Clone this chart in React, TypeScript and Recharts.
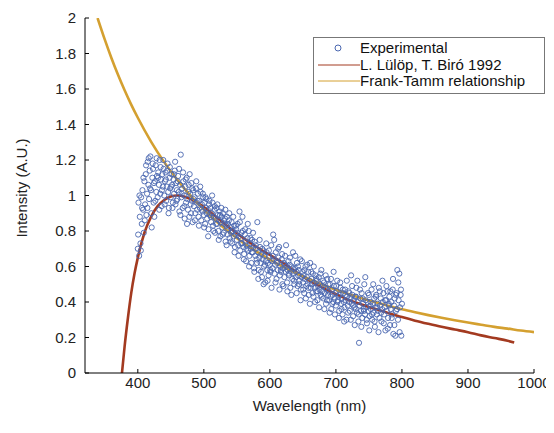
import React from "react";
import { ComposedChart, XAxis, YAxis, Line, Scatter, Label } from "recharts";

const xTicks = [400, 500, 600, 700, 800, 900, 1000];
const yTicks = [0, 0.2, 0.4, 0.6, 0.8, 1, 1.2, 1.4, 1.6, 1.8, 2];

const experimental: [number, number][] = [
  [400, 0.70], [401, 0.96], [402, 0.66], [403, 0.88], [404, 0.73], [405, 0.99], [406, 0.84], [407, 1.03], [408, 0.92], [409, 0.79],
  [410, 1.08], [411, 0.95], [412, 1.12], [413, 0.89], [414, 1.01], [415, 1.19], [416, 1.06], [417, 0.98], [418, 1.14], [419, 1.22],
  [420, 1.03], [421, 0.82], [422, 1.10], [423, 1.15], [424, 0.96], [425, 0.88], [426, 1.08], [427, 1.17], [428, 1.02], [429, 1.11],
  [430, 0.99], [431, 1.13], [432, 1.06], [433, 1.20], [434, 1.01], [435, 1.09], [436, 0.94], [437, 1.12], [438, 1.05], [439, 1.15],
  [440, 1.00], [441, 1.08], [442, 1.13], [443, 0.97], [444, 1.05], [445, 1.18], [446, 1.02], [447, 0.93], [448, 1.10], [449, 1.04],
  [450, 0.99], [451, 1.12], [452, 1.06], [453, 0.96], [454, 1.09], [455, 1.01], [456, 1.14], [457, 0.95], [458, 1.07], [459, 1.03],
  [460, 0.98], [461, 1.11], [462, 1.02], [463, 0.91], [464, 1.06], [465, 1.23], [466, 0.99], [467, 1.04], [468, 0.93], [469, 1.08],
  [470, 1.00], [471, 0.87], [472, 1.05], [473, 0.96], [474, 1.10], [475, 0.98], [476, 0.92], [477, 1.06], [478, 0.88], [479, 1.01],
  [480, 0.95], [481, 1.07], [482, 0.97], [483, 0.85], [484, 1.03], [485, 0.94], [486, 0.99], [487, 0.90], [488, 1.04], [489, 0.96],
  [490, 0.92], [491, 1.01], [492, 0.88], [493, 0.97], [494, 0.93], [495, 1.02], [496, 0.86], [497, 0.95], [498, 0.91], [499, 0.99],
  [500, 0.89], [501, 0.96], [502, 0.84], [503, 0.93], [504, 0.98], [505, 0.87], [506, 0.92], [507, 0.81], [508, 0.95], [509, 0.89],
  [510, 0.93], [511, 0.85], [512, 0.90], [513, 0.96], [514, 0.83], [515, 0.88], [516, 0.92], [517, 0.79], [518, 0.87], [519, 0.93],
  [520, 0.84], [521, 0.89], [522, 0.80], [523, 0.86], [524, 0.91], [525, 0.77], [526, 0.85], [527, 0.88], [528, 0.82], [529, 0.90],
  [530, 0.79], [531, 0.84], [532, 0.87], [533, 0.74], [534, 0.83], [535, 0.88], [536, 0.78], [537, 0.81], [538, 0.86], [539, 0.76],
  [540, 0.82], [541, 0.79], [542, 0.85], [543, 0.73], [544, 0.80], [545, 0.77], [546, 0.83], [547, 0.71], [548, 0.78], [549, 0.81],
  [550, 0.75], [551, 0.84], [552, 0.72], [553, 0.77], [554, 0.91], [555, 0.69], [556, 0.76], [557, 0.79], [558, 0.73], [559, 0.80],
  [560, 0.71], [561, 0.67], [562, 0.78], [563, 0.74], [564, 0.63], [565, 0.72], [566, 0.76], [567, 0.69], [568, 0.80], [569, 0.66],
  [570, 0.73], [571, 0.70], [572, 0.62], [573, 0.75], [574, 0.68], [575, 0.71], [576, 0.59], [577, 0.74], [578, 0.66], [579, 0.70],
  [580, 0.64], [581, 0.85], [582, 0.68], [583, 0.58], [584, 0.65], [585, 0.71], [586, 0.62], [587, 0.67], [588, 0.54], [589, 0.64],
  [590, 0.69], [591, 0.60], [592, 0.66], [593, 0.51], [594, 0.63], [595, 0.68], [596, 0.58], [597, 0.62], [598, 0.55], [599, 0.66],
  [600, 0.61], [601, 0.57], [602, 0.72], [603, 0.63], [604, 0.59], [605, 0.78], [606, 0.64], [607, 0.56], [608, 0.61], [609, 0.68],
  [610, 0.53], [611, 0.62], [612, 0.58], [613, 0.65], [614, 0.71], [615, 0.55], [616, 0.60], [617, 0.57], [618, 0.64], [619, 0.50],
  [620, 0.59], [621, 0.62], [622, 0.54], [623, 0.66], [624, 0.57], [625, 0.60], [626, 0.51], [627, 0.58], [628, 0.63], [629, 0.55],
  [630, 0.61], [631, 0.48], [632, 0.57], [633, 0.60], [634, 0.53], [635, 0.68], [636, 0.56], [637, 0.50], [638, 0.59], [639, 0.54],
  [640, 0.57], [641, 0.62], [642, 0.49], [643, 0.55], [644, 0.58], [645, 0.52], [646, 0.64], [647, 0.47], [648, 0.54], [649, 0.57],
  [650, 0.51], [651, 0.55], [652, 0.45], [653, 0.53], [654, 0.60], [655, 0.49], [656, 0.54], [657, 0.50], [658, 0.57], [659, 0.44],
  [660, 0.52], [661, 0.62], [662, 0.48], [663, 0.53], [664, 0.50], [665, 0.56], [666, 0.43], [667, 0.51], [668, 0.48], [669, 0.55],
  [670, 0.46], [671, 0.52], [672, 0.41], [673, 0.49], [674, 0.54], [675, 0.47], [676, 0.50], [677, 0.44], [678, 0.58], [679, 0.46],
  [680, 0.49], [681, 0.42], [682, 0.51], [683, 0.45], [684, 0.48], [685, 0.39], [686, 0.47], [687, 0.53], [688, 0.44], [689, 0.46],
  [690, 0.41], [691, 0.50], [692, 0.43], [693, 0.36], [694, 0.47], [695, 0.44], [696, 0.40], [697, 0.49], [698, 0.42], [699, 0.45],
  [700, 0.38], [701, 0.46], [702, 0.52], [703, 0.41], [704, 0.43], [705, 0.35], [706, 0.44], [707, 0.48], [708, 0.39], [709, 0.42],
  [710, 0.33], [711, 0.45], [712, 0.40], [713, 0.37], [714, 0.47], [715, 0.41], [716, 0.30], [717, 0.43], [718, 0.38], [719, 0.46],
  [720, 0.40], [721, 0.35], [722, 0.42], [723, 0.55], [724, 0.39], [725, 0.44], [726, 0.32], [727, 0.41], [728, 0.37], [729, 0.43],
  [730, 0.36], [731, 0.48], [732, 0.34], [733, 0.40], [734, 0.29], [735, 0.17], [736, 0.38], [737, 0.42], [738, 0.35], [739, 0.45],
  [740, 0.31], [741, 0.39], [742, 0.36], [743, 0.50], [744, 0.33], [745, 0.41], [746, 0.37], [747, 0.28], [748, 0.40], [749, 0.35],
  [750, 0.44], [751, 0.32], [752, 0.38], [753, 0.36], [754, 0.47], [755, 0.30], [756, 0.39], [757, 0.34], [758, 0.42], [759, 0.26],
  [760, 0.37], [761, 0.44], [762, 0.33], [763, 0.39], [764, 0.35], [765, 0.48], [766, 0.31], [767, 0.38], [768, 0.42], [769, 0.29],
  [770, 0.36], [771, 0.40], [772, 0.45], [773, 0.33], [774, 0.37], [775, 0.24], [776, 0.41], [777, 0.35], [778, 0.46], [779, 0.31],
  [780, 0.39], [781, 0.43], [782, 0.27], [783, 0.36], [784, 0.40], [785, 0.33], [786, 0.47], [787, 0.22], [788, 0.38], [789, 0.42],
  [790, 0.21], [791, 0.35], [792, 0.45], [793, 0.58], [794, 0.30], [795, 0.41], [796, 0.56], [797, 0.37], [798, 0.44], [799, 0.21],
  [800, 0.39],
];

// second scan interleaved between the first one (wavelength nm, intensity)
const experimentalB: [number, number][] = [
  [400.5, 0.78], [402.5, 1.00], [404.5, 0.69], [406.5, 0.93], [408.5, 1.10], [410.5, 0.86], [412.5, 1.17], [414.5, 0.93],
  [416.5, 1.21], [418.5, 1.04], [420.5, 0.90], [422.5, 1.18], [424.5, 1.07], [426.5, 0.97], [428.5, 1.21], [430.5, 1.10],
  [432.5, 0.92], [434.5, 1.16], [436.5, 1.03], [438.5, 1.20], [440.5, 0.95], [442.5, 1.09], [444.5, 1.14], [446.5, 0.90],
  [448.5, 1.16], [450.5, 1.05], [452.5, 0.93], [454.5, 1.12], [456.5, 1.19], [458.5, 0.97], [460.5, 1.08], [462.5, 1.15],
  [464.5, 0.89], [466.5, 1.01], [468.5, 1.13], [470.5, 0.94], [472.5, 1.09], [474.5, 0.84], [476.5, 1.02], [478.5, 1.12],
  [480.5, 0.90], [482.5, 1.04], [484.5, 0.98], [486.5, 0.86], [488.5, 1.08], [490.5, 0.97], [492.5, 0.83], [494.5, 1.05],
  [496.5, 0.92], [498.5, 1.01], [500.5, 0.82], [502.5, 0.99], [504.5, 0.90], [506.5, 0.77], [508.5, 0.97], [510.5, 0.88],
  [512.5, 1.00], [514.5, 0.80], [516.5, 0.94], [518.5, 0.84], [520.5, 0.95], [522.5, 0.75], [524.5, 0.89], [526.5, 0.93],
  [528.5, 0.78], [530.5, 0.86], [532.5, 0.92], [534.5, 0.72], [536.5, 0.84], [538.5, 0.90], [540.5, 0.74], [542.5, 0.80],
  [544.5, 0.88], [546.5, 0.68], [548.5, 0.83], [550.5, 0.79], [552.5, 0.66], [554.5, 0.85], [556.5, 0.73], [558.5, 0.88],
  [560.5, 0.64], [562.5, 0.81], [564.5, 0.70], [566.5, 0.84], [568.5, 0.60], [570.5, 0.76], [572.5, 0.68], [574.5, 0.79],
  [576.5, 0.57], [578.5, 0.72], [580.5, 0.62], [582.5, 0.53], [584.5, 0.75], [586.5, 0.57], [588.5, 0.70], [590.5, 0.50],
  [592.5, 0.61], [594.5, 0.73], [596.5, 0.52], [598.5, 0.69], [600.5, 0.58], [602.5, 0.48], [604.5, 0.66], [606.5, 0.75],
  [608.5, 0.51], [610.5, 0.63], [612.5, 0.70], [614.5, 0.47], [616.5, 0.58], [618.5, 0.67], [620.5, 0.49], [622.5, 0.61],
  [624.5, 0.72], [626.5, 0.46], [628.5, 0.56], [630.5, 0.65], [632.5, 0.44], [634.5, 0.59], [636.5, 0.52], [638.5, 0.66],
  [640.5, 0.45], [642.5, 0.60], [644.5, 0.50], [646.5, 0.41], [648.5, 0.63], [650.5, 0.47], [652.5, 0.58], [654.5, 0.42],
  [656.5, 0.61], [658.5, 0.48], [660.5, 0.39], [662.5, 0.57], [664.5, 0.45], [666.5, 0.60], [668.5, 0.40], [670.5, 0.53],
  [672.5, 0.46], [674.5, 0.37], [676.5, 0.56], [678.5, 0.43], [680.5, 0.52], [682.5, 0.36], [684.5, 0.55], [686.5, 0.41],
  [688.5, 0.50], [690.5, 0.34], [692.5, 0.53], [694.5, 0.39], [696.5, 0.57], [698.5, 0.33], [700.5, 0.49], [702.5, 0.40],
  [704.5, 0.31], [706.5, 0.51], [708.5, 0.36], [710.5, 0.47], [712.5, 0.29], [714.5, 0.44], [716.5, 0.52], [718.5, 0.34],
  [720.5, 0.45], [722.5, 0.30], [724.5, 0.49], [726.5, 0.38], [728.5, 0.27], [730.5, 0.43], [732.5, 0.52], [734.5, 0.33],
  [736.5, 0.47], [738.5, 0.26], [740.5, 0.42], [742.5, 0.35], [744.5, 0.54], [746.5, 0.30], [748.5, 0.45], [750.5, 0.24],
  [752.5, 0.40], [754.5, 0.33], [756.5, 0.50], [758.5, 0.29], [760.5, 0.43], [762.5, 0.37], [764.5, 0.23], [766.5, 0.46],
  [768.5, 0.34], [770.5, 0.52], [772.5, 0.28], [774.5, 0.41], [776.5, 0.49], [778.5, 0.25], [780.5, 0.38], [782.5, 0.46],
  [784.5, 0.31], [786.5, 0.53], [788.5, 0.27], [790.5, 0.44], [792.5, 0.36], [794.5, 0.51], [796.5, 0.23], [798.5, 0.47],
];

// L. Lülöp, T. Biró 1992 model curve
const lulopCurve: [number, number][] = [
  [376, 0], [380, 0.15], [385, 0.31], [390, 0.45], [395, 0.56], [400, 0.65], [410, 0.79], [420, 0.88],
  [430, 0.94], [440, 0.975], [450, 0.995], [460, 1.0], [470, 0.995], [480, 0.98], [490, 0.96], [500, 0.935],
  [520, 0.875], [540, 0.815], [560, 0.76], [580, 0.71], [600, 0.665], [620, 0.62], [640, 0.568], [660, 0.52],
  [680, 0.48], [700, 0.445], [720, 0.41], [740, 0.385], [760, 0.36], [780, 0.337], [800, 0.315], [820, 0.295],
  [840, 0.277], [860, 0.26], [880, 0.245], [900, 0.23], [920, 0.212], [940, 0.197], [960, 0.182], [970, 0.172],
];

// Frank-Tamm relationship curve
const frankTammCurve: [number, number][] = [
  [339, 2.0], [350, 1.878], [360, 1.775], [370, 1.68], [380, 1.593], [390, 1.512], [400, 1.438], [420, 1.304],
  [440, 1.188], [460, 1.087], [480, 0.998], [500, 0.92], [520, 0.851], [540, 0.789], [560, 0.733], [580, 0.684],
  [600, 0.639], [620, 0.598], [640, 0.562], [660, 0.528], [680, 0.497], [700, 0.469], [720, 0.444], [740, 0.42],
  [760, 0.398], [780, 0.378], [800, 0.359], [820, 0.342], [840, 0.326], [860, 0.311], [880, 0.297], [900, 0.284],
  [920, 0.272], [940, 0.26], [960, 0.25], [980, 0.239], [1000, 0.23],
];

const BLUE = "#4a67b0";
const RED = "#a33a20";
const GOLD = "#d4a030";
const FONT = "'Liberation Sans', Arial, sans-serif";

const toPoints = (arr: [number, number][]) => arr.map(([x, y]) => ({ x, y }));

const XTick = (props: any) => {
  const { x, y, payload } = props;
  return (
    <g>
      <line x1={x} y1={y} x2={x} y2={y - 4} stroke="#000" strokeWidth={1} />
      <text x={x} y={y + 15} textAnchor="middle" fontSize={15} fontFamily={FONT} fill="#222">
        {payload.value}
      </text>
    </g>
  );
};

const YTick = (props: any) => {
  const { x, y, payload } = props;
  return (
    <g>
      <line x1={x} y1={y} x2={x + 4} y2={y} stroke="#000" strokeWidth={1} />
      <text x={x - 9} y={y + 5} textAnchor="end" fontSize={15} fontFamily={FONT} fill="#222">
        {payload.value}
      </text>
    </g>
  );
};

const Ring = (props: any) => {
  const { cx, cy } = props;
  return <circle cx={cx} cy={cy} r={2.6} fill="none" stroke={BLUE} strokeWidth={0.9} />;
};

const LegendBox = () => {
  const row = (marker: React.ReactNode, label: string) => (
    <div style={{ display: "flex", alignItems: "center", height: 16.5 }}>
      <svg width={44} height={14} style={{ flex: "none" }}>{marker}</svg>
      <span>{label}</span>
    </div>
  );
  return (
    <div
      style={{
        position: "absolute",
        left: 305,
        top: 29,
        width: 228,
        border: "1px solid #777",
        background: "#fff",
        fontFamily: FONT,
        fontSize: 15,
        color: "#111",
        padding: "2px 0 3px 2px",
        lineHeight: "16px",
        whiteSpace: "nowrap",
      }}
    >
      {row(<circle cx={22} cy={7} r={3} fill="none" stroke={BLUE} strokeWidth={1} />, "Experimental")}
      {row(<line x1={2} y1={7} x2={44} y2={7} stroke={RED} strokeWidth={1} />, "L. Lülöp, T. Biró 1992")}
      {row(<line x1={2} y1={7} x2={44} y2={7} stroke={GOLD} strokeWidth={1} />, "Frank-Tamm relationship")}
    </div>
  );
};

export default function App() {
  return (
    <div style={{ position: "relative", width: 538, height: 425, marginBottom: -8 }}>
      <ComposedChart width={552} height={425} margin={{ top: 10, right: 26, left: 0, bottom: 0 }}>
        <XAxis
          type="number"
          dataKey="x"
          domain={[320, 1000]}
          ticks={xTicks}
          allowDataOverflow
          height={60}
          tickSize={0}
          tickMargin={0}
          tick={<XTick />}
          axisLine={{ stroke: "#000" }}
        >
          <Label value="Wavelength (nm)" position="insideBottom" offset={22} fontSize={15} fontFamily={FONT} fill="#222" />
        </XAxis>
        <YAxis
          type="number"
          domain={[0, 2]}
          ticks={yTicks}
          allowDataOverflow
          width={77}
          tickSize={0}
          tickMargin={0}
          tick={<YTick />}
          axisLine={{ stroke: "#000" }}
        >
          <Label
            content={() => (
              <text
                x={13}
                y={180}
                transform="rotate(-90 13 180)"
                textAnchor="middle"
                dominantBaseline="central"
                fontSize={15}
                fontFamily={FONT}
                fill="#222"
              >
                Intensity (A.U.)
              </text>
            )}
          />
        </YAxis>
        <Scatter
          name="Experimental"
          data={toPoints([...experimental, ...experimentalB])}
          dataKey="y"
          shape={<Ring />}
          isAnimationActive={false}
        />
        <Line
          name="L. Lülöp, T. Biró 1992"
          data={toPoints(lulopCurve)}
          dataKey="y"
          type="monotone"
          dot={false}
          stroke={RED}
          strokeWidth={2.6}
          isAnimationActive={false}
        />
        <Line
          name="Frank-Tamm relationship"
          data={toPoints(frankTammCurve)}
          dataKey="y"
          type="monotone"
          dot={false}
          stroke={GOLD}
          strokeWidth={2.6}
          isAnimationActive={false}
        />
      </ComposedChart>
      <LegendBox />
    </div>
  );
}
